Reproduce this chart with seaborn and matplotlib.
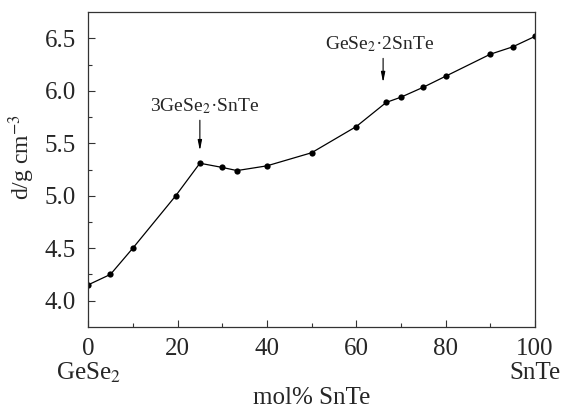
import pandas as pd
import matplotlib
matplotlib.use("Agg")
import matplotlib.pyplot as plt
import seaborn as sns

# composition (mol% SnTe) and density d (g/cm3)
mol_snte = [0, 5, 10, 19.6, 25, 30, 33.3, 40, 50, 60, 66.7, 70, 75, 80, 90, 95, 100]
density = [4.15, 4.25, 4.50, 5.00, 5.31, 5.27, 5.24, 5.285, 5.41, 5.66, 5.89, 5.94, 6.035,
           6.14, 6.35, 6.42, 6.52]

x_ticks = [0, 20, 40, 60, 80, 100]
y_ticks = [4.0, 4.5, 5.0, 5.5, 6.0, 6.5]

compounds = ["3GeSe$_2$·SnTe", "GeSe$_2$·2SnTe"]
compound_x = [25, 66]

df = pd.DataFrame({"mol": mol_snte, "d": density})

sns.set_style("ticks")
plt.rcParams["font.family"] = ["Liberation Serif", "DejaVu Serif"]
plt.rcParams["mathtext.fontset"] = "stix"
plt.rcParams["xtick.direction"] = "in"
plt.rcParams["ytick.direction"] = "in"

fig = plt.figure(figsize=(5.65, 4.08), dpi=100)
ax = fig.add_axes([0.156, 0.199, 0.791, 0.771])

sns.lineplot(data=df, x="mol", y="d", ax=ax, color="black", linewidth=0.9,
             marker="o", markersize=4.5, markeredgewidth=0)

ax.set_xlim(0, 100)
ax.set_ylim(3.75, 6.75)
ax.set_xticks(x_ticks)
ax.set_xticks(range(10, 100, 20), minor=True)
ax.set_yticks(y_ticks)
ax.set_yticks([4.25, 4.75, 5.25, 5.75, 6.25], minor=True)
ax.tick_params(which="major", length=5, width=0.8, labelsize=18, pad=9, color="#333333")
ax.tick_params(axis="x", which="major", pad=8)
ax.tick_params(which="minor", length=3, width=0.8, color="#333333")
for s in ax.spines.values():
    s.set_linewidth(0.9)
    s.set_color("#333333")

ax.set_xlabel("mol% SnTe", fontsize=18)
ax.xaxis.set_label_coords(0.5, -0.19)
ax.set_ylabel("d/g cm$^{-3}$", fontsize=17)
ax.yaxis.set_label_coords(-0.114, 0.54)

# end member labels under the 0 and 100 ticks
ax.text(0, -0.167, "GeSe$_2$", transform=ax.get_xaxis_transform(), ha="center", va="baseline", fontsize=18)
ax.text(100, -0.167, "SnTe", transform=ax.get_xaxis_transform(), ha="center", va="baseline", fontsize=18)

# compound annotations with vertical arrows
arrow = dict(arrowstyle="-|>,head_width=0.12,head_length=0.6", color="black", lw=0.8,
             shrinkA=0, shrinkB=0)
ax.text(26, 5.81, compounds[0], ha="center", va="baseline", fontsize=14)
ax.annotate("", xy=(compound_x[0], 5.43), xytext=(compound_x[0], 5.72), arrowprops=arrow)
ax.text(65.1, 6.40, compounds[1], ha="center", va="baseline", fontsize=14)
ax.annotate("", xy=(compound_x[1], 6.08), xytext=(compound_x[1], 6.31), arrowprops=arrow)

fig.savefig("out.png", dpi=100)
